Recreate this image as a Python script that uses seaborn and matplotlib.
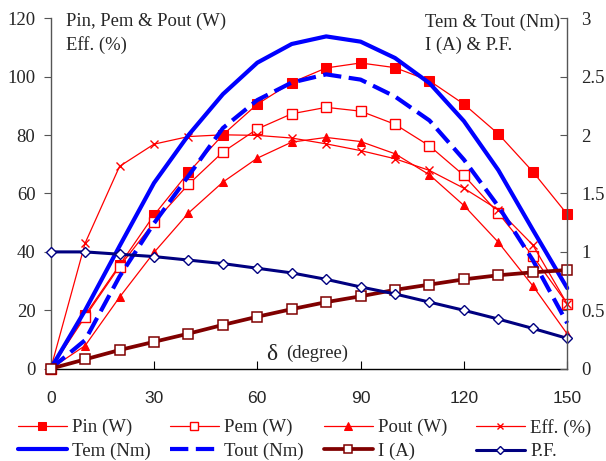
import matplotlib
matplotlib.use("Agg")
import matplotlib.pyplot as plt
import seaborn as sns
import pandas as pd

# ---- data ----
delta = [0, 10, 20, 30, 40, 50, 60, 70, 80, 90, 100, 110, 120, 130, 140, 150]
pin = [0, 18.4, 35.5, 52.6, 67.2, 80.1, 90.6, 98.0, 103.0, 104.7, 103.1, 98.6, 90.6, 80.4, 67.5, 52.9]
pem = [0, 17.8, 35.0, 50.1, 63.1, 74.2, 82.1, 87.3, 89.5, 88.2, 83.7, 76.3, 66.2, 53.3, 38.6, 22.2]
pout = [0, 7.9, 24.5, 39.8, 53.3, 63.9, 72.1, 77.6, 79.2, 77.8, 73.6, 66.4, 55.9, 43.3, 28.4, 11.9]
eff = [0, 43.0, 69.3, 76.9, 79.5, 80.1, 79.9, 79.0, 77.0, 74.7, 71.9, 67.9, 61.8, 54.4, 42.4, 22.2]
tem = [0, 0.50, 1.05, 1.59, 2.00, 2.35, 2.62, 2.78, 2.845, 2.80, 2.66, 2.445, 2.12, 1.70, 1.19, 0.69]
tout = [0, 0.245, 0.79, 1.245, 1.65, 2.06, 2.30, 2.45, 2.52, 2.475, 2.33, 2.125, 1.79, 1.39, 0.93, 0.39]
i_a = [0, 0.08, 0.16, 0.23, 0.30, 0.375, 0.445, 0.51, 0.57, 0.62, 0.675, 0.72, 0.765, 0.80, 0.825, 0.845]
pf = [1.0, 1.0, 0.98, 0.96, 0.93, 0.90, 0.86, 0.82, 0.765, 0.70, 0.64, 0.57, 0.50, 0.425, 0.345, 0.26]

left_ticks = [0, 20, 40, 60, 80, 100, 120]
right_ticks = [0, 0.5, 1, 1.5, 2, 2.5, 3]
right_tick_labels = ["0", "0.5", "1", "1.5", "2", "2.5", "3"]
x_ticks = [0, 30, 60, 90, 120, 150]

df = pd.DataFrame({"delta": delta, "pin": pin, "pem": pem, "pout": pout, "eff": eff,
                   "tem": tem, "tout": tout, "i": i_a, "pf": pf})

sns.set_style("white")
SERIF = ["Liberation Serif", "DejaVu Serif"]
SANS = ["Liberation Sans", "DejaVu Sans"]
plt.rcParams["font.family"] = SERIF

W, H = 606, 461
fig = plt.figure(figsize=(W / 100, H / 100), dpi=100)
ax = fig.add_axes([50.7 / W, 1 - 368.7 / H, (567.2 - 50.7) / W, (368.7 - 18.3) / H])
ax2 = ax.twinx()

RED = "#FF0000"
lw_r = 0.9
sns.lineplot(data=df, x="delta", y="pin", ax=ax, color=RED, lw=lw_r, marker="s", ms=6.5,
             mec=RED, mfc=RED, label="Pin (W)", clip_on=False)
sns.lineplot(data=df, x="delta", y="pem", ax=ax, color=RED, lw=lw_r, marker="s", ms=6.5,
             mec=RED, mfc="white", mew=1.0, label="Pem (W)", clip_on=False)
sns.lineplot(data=df, x="delta", y="pout", ax=ax, color=RED, lw=lw_r, marker="^", ms=6.3,
             mec=RED, mfc=RED, label="Pout (W)", clip_on=False)
sns.lineplot(data=df, x="delta", y="eff", ax=ax, color=RED, lw=lw_r, marker="x", ms=5.8,
             mec=RED, mew=1.0, label="Eff. (%)", clip_on=False)

sns.lineplot(data=df, x="delta", y="tem", ax=ax2, color="#0000FF", lw=3.0, label="Tem (Nm)",
             clip_on=False)
sns.lineplot(data=df, x="delta", y="tout", ax=ax2, color="#0000FF", lw=3.0, label="Tout (Nm)",
             clip_on=False)
ax2.lines[-1].set_dashes([4.4, 1.8])
sns.lineplot(data=df, x="delta", y="i", ax=ax2, color="#800000", lw=2.7, marker="s", ms=6.8,
             mec="#800000", mfc="white", mew=1.1, label="I (A)", clip_on=False)
sns.lineplot(data=df, x="delta", y="pf", ax=ax2, color="#000080", lw=2.2, marker="D", ms=4.6,
             mec="#000080", mfc="white", mew=1.0, label="P.F.", clip_on=False)

for a in (ax, ax2):
    a.set_xlabel("")
    a.set_ylabel("")
    a.set_xlim(0, 150)
    a.patch.set_visible(False)
    a.spines["top"].set_visible(False)
ax.set_ylim(0, 120)
ax2.set_ylim(0, 3)

ax.set_yticks(left_ticks)
ax2.set_yticks(right_ticks)
ax2.set_yticklabels(right_tick_labels)
ax.set_xticks(x_ticks)
ax.set_xticklabels([str(v) for v in x_ticks], family=SANS, fontsize=12.6)

for a in (ax, ax2):
    for s in a.spines.values():
        s.set_color("#555555")
        s.set_linewidth(1.0)
ax.spines["bottom"].set_color("black")
ax.spines["right"].set_visible(False)
ax2.spines["left"].set_visible(False)
ax2.spines["bottom"].set_visible(False)

ax.tick_params(axis="y", direction="out", length=5, pad=6, labelsize=13.5, color="#555555", left=True)
ax.tick_params(axis="x", direction="in", length=6, pad=16, bottom=True, color="black")
ax2.tick_params(axis="y", direction="in", length=5, pad=10, labelsize=13.5, color="#555555", right=True)

# in-plot annotations
fig.text(66.5 / W, 1 - 21 / H, "Pin, Pem & Pout (W)", fontsize=13.4, va="center", ha="left")
fig.text(66.5 / W, 1 - 45 / H, "Eff. (%)", fontsize=13.4, va="center", ha="left")
fig.text(425 / W, 1 - 22 / H, "Tem & Tout (Nm)", fontsize=13.4, va="center", ha="left")
fig.text(425 / W, 1 - 45 / H, "I (A) & P.F.", fontsize=13.4, va="center", ha="left")
fig.text(266 / W, 1 - 354 / H, "δ", fontsize=17, va="center", ha="left")
fig.text(286 / W, 1 - 353 / H, "(degree)", fontsize=13.4, va="center", ha="left")

# legend: rows Pin,Pem,Pout,Eff / Tem,Tout,I,PF
h1, l1 = ax.get_legend_handles_labels()
h2, l2 = ax2.get_legend_handles_labels()
for a in (ax, ax2):
    if a.get_legend() is not None:
        a.get_legend().remove()
col_x = [18, 170, 324, 476]
for c in range(4):
    fig.legend([h1[c], h2[c]], [l1[c], l2[c]], loc="upper left",
               bbox_to_anchor=(col_x[c] / W, 1 - 419 / H), frameon=False,
               borderpad=0, borderaxespad=0, handlelength=2.6, handletextpad=0.3,
               labelspacing=0.34, fontsize=13.5, numpoints=1, markerscale=0.85)

fig.savefig("out.png", dpi=100, facecolor="white")
